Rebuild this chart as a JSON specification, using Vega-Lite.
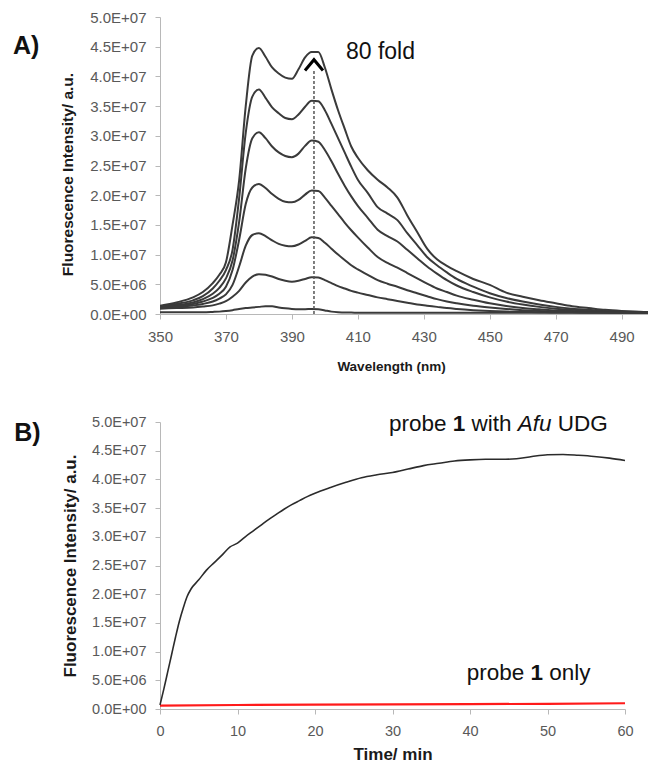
{
  "$schema": "https://vega.github.io/schema/vega-lite/v6.json",
  "padding": {"left": 12, "top": 10, "right": 0, "bottom": 0},
  "background": "white",
  "bounds": "flush",
  "spacing": 108,
  "config": {
    "font": "Liberation Sans",
    "view": {"stroke": null},
    "axis": {"grid": false, "domainColor": "#b8b8b8", "tickColor": "#b8b8b8", "tickSize": 5, "labelColor": "#595959", "labelFont": "Liberation Sans", "titleFont": "Liberation Sans", "titleFontWeight": "bold", "titleColor": "#1a1a1a", "labelFlush": false, "labelOverlap": false}
  },
  "datasets": {
    "spectra": [
      {"c":"C7","w":350,"v":1.4e6},{"c":"C7","w":355,"v":1.95e6},{"c":"C7","w":360,"v":2.8e6},{"c":"C7","w":363,"v":3.7e6},{"c":"C7","w":366,"v":5.2e6},{"c":"C7","w":368,"v":6.6e6},{"c":"C7","w":370,"v":8.7e6},{"c":"C7","w":372,"v":15e6},{"c":"C7","w":374,"v":22.5e6},{"c":"C7","w":376,"v":35e6},{"c":"C7","w":378,"v":43.5e6},{"c":"C7","w":380,"v":44.8e6},{"c":"C7","w":382,"v":43.3e6},{"c":"C7","w":384,"v":41.5e6},{"c":"C7","w":386,"v":40.5e6},{"c":"C7","w":388,"v":39.8e6},{"c":"C7","w":390,"v":39.6e6},{"c":"C7","w":392,"v":41.2e6},{"c":"C7","w":394,"v":43.2e6},{"c":"C7","w":396,"v":44.1e6},{"c":"C7","w":398,"v":44.1e6},{"c":"C7","w":400,"v":41.5e6},{"c":"C7","w":402,"v":37.8e6},{"c":"C7","w":404,"v":34.3e6},{"c":"C7","w":406,"v":31.2e6},{"c":"C7","w":408,"v":28.2e6},{"c":"C7","w":410,"v":26.3e6},{"c":"C7","w":413,"v":24.2e6},{"c":"C7","w":416,"v":22.6e6},{"c":"C7","w":419,"v":21.3e6},{"c":"C7","w":422,"v":19.6e6},{"c":"C7","w":425,"v":16.6e6},{"c":"C7","w":428,"v":13.8e6},{"c":"C7","w":431,"v":11.0e6},{"c":"C7","w":434,"v":9.2e6},{"c":"C7","w":437,"v":8.1e6},{"c":"C7","w":440,"v":7.2e6},{"c":"C7","w":445,"v":5.9e6},{"c":"C7","w":450,"v":4.9e6},{"c":"C7","w":455,"v":3.6e6},{"c":"C7","w":460,"v":2.9e6},{"c":"C7","w":465,"v":2.3e6},{"c":"C7","w":470,"v":1.8e6},{"c":"C7","w":475,"v":1.3e6},{"c":"C7","w":480,"v":1.0e6},{"c":"C7","w":485,"v":0.7e6},{"c":"C7","w":490,"v":0.5e6},{"c":"C7","w":498,"v":0.3e6},
      {"c":"C6","w":350,"v":1.3e6},{"c":"C6","w":355,"v":1.7e6},{"c":"C6","w":360,"v":2.3e6},{"c":"C6","w":363,"v":3.0e6},{"c":"C6","w":366,"v":4.3e6},{"c":"C6","w":368,"v":5.6e6},{"c":"C6","w":370,"v":7.4e6},{"c":"C6","w":372,"v":10.8e6},{"c":"C6","w":374,"v":19.5e6},{"c":"C6","w":376,"v":30.5e6},{"c":"C6","w":378,"v":36.6e6},{"c":"C6","w":380,"v":37.8e6},{"c":"C6","w":382,"v":36.4e6},{"c":"C6","w":384,"v":34.8e6},{"c":"C6","w":386,"v":33.8e6},{"c":"C6","w":388,"v":33.0e6},{"c":"C6","w":390,"v":32.8e6},{"c":"C6","w":392,"v":33.6e6},{"c":"C6","w":394,"v":34.9e6},{"c":"C6","w":396,"v":35.9e6},{"c":"C6","w":398,"v":35.8e6},{"c":"C6","w":400,"v":34.3e6},{"c":"C6","w":402,"v":32.0e6},{"c":"C6","w":404,"v":29.6e6},{"c":"C6","w":406,"v":27.2e6},{"c":"C6","w":408,"v":24.8e6},{"c":"C6","w":410,"v":22.6e6},{"c":"C6","w":413,"v":20.4e6},{"c":"C6","w":416,"v":18.0e6},{"c":"C6","w":419,"v":16.9e6},{"c":"C6","w":422,"v":15.8e6},{"c":"C6","w":425,"v":13.6e6},{"c":"C6","w":428,"v":11.6e6},{"c":"C6","w":431,"v":9.6e6},{"c":"C6","w":434,"v":8.2e6},{"c":"C6","w":437,"v":7.0e6},{"c":"C6","w":440,"v":5.9e6},{"c":"C6","w":445,"v":4.6e6},{"c":"C6","w":450,"v":3.5e6},{"c":"C6","w":455,"v":2.7e6},{"c":"C6","w":460,"v":2.1e6},{"c":"C6","w":465,"v":1.6e6},{"c":"C6","w":470,"v":1.2e6},{"c":"C6","w":475,"v":0.9e6},{"c":"C6","w":480,"v":0.7e6},{"c":"C6","w":485,"v":0.5e6},{"c":"C6","w":490,"v":0.4e6},{"c":"C6","w":498,"v":0.3e6},
      {"c":"C5","w":350,"v":1.2e6},{"c":"C5","w":355,"v":1.5e6},{"c":"C5","w":360,"v":1.95e6},{"c":"C5","w":363,"v":2.5e6},{"c":"C5","w":366,"v":3.4e6},{"c":"C5","w":368,"v":4.4e6},{"c":"C5","w":370,"v":6.0e6},{"c":"C5","w":372,"v":9.0e6},{"c":"C5","w":374,"v":15.5e6},{"c":"C5","w":376,"v":24.5e6},{"c":"C5","w":378,"v":29.6e6},{"c":"C5","w":380,"v":30.6e6},{"c":"C5","w":382,"v":29.6e6},{"c":"C5","w":384,"v":28.2e6},{"c":"C5","w":386,"v":27.2e6},{"c":"C5","w":388,"v":26.6e6},{"c":"C5","w":390,"v":26.4e6},{"c":"C5","w":392,"v":27.0e6},{"c":"C5","w":394,"v":28.3e6},{"c":"C5","w":396,"v":29.2e6},{"c":"C5","w":398,"v":29.0e6},{"c":"C5","w":400,"v":27.6e6},{"c":"C5","w":402,"v":25.7e6},{"c":"C5","w":404,"v":23.6e6},{"c":"C5","w":406,"v":21.6e6},{"c":"C5","w":408,"v":19.8e6},{"c":"C5","w":410,"v":18.2e6},{"c":"C5","w":413,"v":16.2e6},{"c":"C5","w":416,"v":14.2e6},{"c":"C5","w":419,"v":13.1e6},{"c":"C5","w":422,"v":12.2e6},{"c":"C5","w":425,"v":10.8e6},{"c":"C5","w":428,"v":9.4e6},{"c":"C5","w":431,"v":8.0e6},{"c":"C5","w":434,"v":6.8e6},{"c":"C5","w":437,"v":5.7e6},{"c":"C5","w":440,"v":4.8e6},{"c":"C5","w":445,"v":3.7e6},{"c":"C5","w":450,"v":2.8e6},{"c":"C5","w":455,"v":2.1e6},{"c":"C5","w":460,"v":1.6e6},{"c":"C5","w":465,"v":1.2e6},{"c":"C5","w":470,"v":0.9e6},{"c":"C5","w":475,"v":0.7e6},{"c":"C5","w":480,"v":0.55e6},{"c":"C5","w":485,"v":0.45e6},{"c":"C5","w":490,"v":0.35e6},{"c":"C5","w":498,"v":0.25e6},
      {"c":"C4","w":350,"v":1.1e6},{"c":"C4","w":355,"v":1.35e6},{"c":"C4","w":360,"v":1.7e6},{"c":"C4","w":363,"v":2.1e6},{"c":"C4","w":366,"v":2.7e6},{"c":"C4","w":368,"v":3.4e6},{"c":"C4","w":370,"v":4.6e6},{"c":"C4","w":372,"v":7.4e6},{"c":"C4","w":374,"v":12.5e6},{"c":"C4","w":376,"v":18.5e6},{"c":"C4","w":378,"v":21.3e6},{"c":"C4","w":380,"v":21.9e6},{"c":"C4","w":382,"v":21.2e6},{"c":"C4","w":384,"v":20.2e6},{"c":"C4","w":386,"v":19.4e6},{"c":"C4","w":388,"v":18.9e6},{"c":"C4","w":390,"v":18.8e6},{"c":"C4","w":392,"v":19.2e6},{"c":"C4","w":394,"v":20.1e6},{"c":"C4","w":396,"v":20.8e6},{"c":"C4","w":398,"v":20.7e6},{"c":"C4","w":400,"v":19.6e6},{"c":"C4","w":402,"v":18.2e6},{"c":"C4","w":404,"v":16.8e6},{"c":"C4","w":406,"v":15.4e6},{"c":"C4","w":408,"v":14.1e6},{"c":"C4","w":410,"v":12.9e6},{"c":"C4","w":413,"v":11.2e6},{"c":"C4","w":416,"v":9.6e6},{"c":"C4","w":419,"v":8.6e6},{"c":"C4","w":422,"v":7.8e6},{"c":"C4","w":425,"v":6.9e6},{"c":"C4","w":428,"v":6.0e6},{"c":"C4","w":431,"v":5.1e6},{"c":"C4","w":434,"v":4.3e6},{"c":"C4","w":437,"v":3.7e6},{"c":"C4","w":440,"v":3.1e6},{"c":"C4","w":445,"v":2.4e6},{"c":"C4","w":450,"v":1.8e6},{"c":"C4","w":455,"v":1.35e6},{"c":"C4","w":460,"v":1.0e6},{"c":"C4","w":465,"v":0.8e6},{"c":"C4","w":470,"v":0.6e6},{"c":"C4","w":475,"v":0.5e6},{"c":"C4","w":480,"v":0.4e6},{"c":"C4","w":485,"v":0.35e6},{"c":"C4","w":490,"v":0.3e6},{"c":"C4","w":498,"v":0.2e6},
      {"c":"C3","w":350,"v":1.0e6},{"c":"C3","w":355,"v":1.2e6},{"c":"C3","w":360,"v":1.45e6},{"c":"C3","w":363,"v":1.7e6},{"c":"C3","w":366,"v":2.1e6},{"c":"C3","w":368,"v":2.6e6},{"c":"C3","w":370,"v":3.3e6},{"c":"C3","w":372,"v":4.9e6},{"c":"C3","w":374,"v":8.0e6},{"c":"C3","w":376,"v":11.5e6},{"c":"C3","w":378,"v":13.3e6},{"c":"C3","w":380,"v":13.6e6},{"c":"C3","w":382,"v":13.1e6},{"c":"C3","w":384,"v":12.4e6},{"c":"C3","w":386,"v":11.8e6},{"c":"C3","w":388,"v":11.5e6},{"c":"C3","w":390,"v":11.4e6},{"c":"C3","w":392,"v":11.7e6},{"c":"C3","w":394,"v":12.3e6},{"c":"C3","w":396,"v":12.9e6},{"c":"C3","w":398,"v":12.8e6},{"c":"C3","w":400,"v":12.0e6},{"c":"C3","w":402,"v":11.0e6},{"c":"C3","w":404,"v":10.0e6},{"c":"C3","w":406,"v":9.1e6},{"c":"C3","w":408,"v":8.2e6},{"c":"C3","w":410,"v":7.5e6},{"c":"C3","w":413,"v":6.6e6},{"c":"C3","w":416,"v":5.7e6},{"c":"C3","w":419,"v":5.1e6},{"c":"C3","w":422,"v":4.6e6},{"c":"C3","w":425,"v":4.0e6},{"c":"C3","w":428,"v":3.5e6},{"c":"C3","w":431,"v":3.0e6},{"c":"C3","w":434,"v":2.5e6},{"c":"C3","w":437,"v":2.1e6},{"c":"C3","w":440,"v":1.8e6},{"c":"C3","w":445,"v":1.4e6},{"c":"C3","w":450,"v":1.1e6},{"c":"C3","w":455,"v":0.85e6},{"c":"C3","w":460,"v":0.65e6},{"c":"C3","w":465,"v":0.5e6},{"c":"C3","w":470,"v":0.4e6},{"c":"C3","w":475,"v":0.35e6},{"c":"C3","w":480,"v":0.3e6},{"c":"C3","w":485,"v":0.25e6},{"c":"C3","w":490,"v":0.2e6},{"c":"C3","w":498,"v":0.2e6},
      {"c":"C2","w":350,"v":0.9e6},{"c":"C2","w":355,"v":1.0e6},{"c":"C2","w":360,"v":1.1e6},{"c":"C2","w":363,"v":1.25e6},{"c":"C2","w":366,"v":1.45e6},{"c":"C2","w":368,"v":1.75e6},{"c":"C2","w":370,"v":2.15e6},{"c":"C2","w":372,"v":2.9e6},{"c":"C2","w":374,"v":3.9e6},{"c":"C2","w":376,"v":5.3e6},{"c":"C2","w":378,"v":6.3e6},{"c":"C2","w":380,"v":6.7e6},{"c":"C2","w":382,"v":6.6e6},{"c":"C2","w":384,"v":6.3e6},{"c":"C2","w":386,"v":5.9e6},{"c":"C2","w":388,"v":5.6e6},{"c":"C2","w":390,"v":5.45e6},{"c":"C2","w":392,"v":5.6e6},{"c":"C2","w":394,"v":5.9e6},{"c":"C2","w":396,"v":6.2e6},{"c":"C2","w":398,"v":6.15e6},{"c":"C2","w":400,"v":5.7e6},{"c":"C2","w":402,"v":5.2e6},{"c":"C2","w":404,"v":4.7e6},{"c":"C2","w":406,"v":4.3e6},{"c":"C2","w":408,"v":3.9e6},{"c":"C2","w":410,"v":3.6e6},{"c":"C2","w":413,"v":3.2e6},{"c":"C2","w":416,"v":2.8e6},{"c":"C2","w":419,"v":2.5e6},{"c":"C2","w":422,"v":2.2e6},{"c":"C2","w":425,"v":1.9e6},{"c":"C2","w":428,"v":1.6e6},{"c":"C2","w":431,"v":1.4e6},{"c":"C2","w":434,"v":1.2e6},{"c":"C2","w":437,"v":1.0e6},{"c":"C2","w":440,"v":0.85e6},{"c":"C2","w":445,"v":0.65e6},{"c":"C2","w":450,"v":0.5e6},{"c":"C2","w":455,"v":0.4e6},{"c":"C2","w":460,"v":0.35e6},{"c":"C2","w":465,"v":0.3e6},{"c":"C2","w":470,"v":0.25e6},{"c":"C2","w":475,"v":0.25e6},{"c":"C2","w":480,"v":0.2e6},{"c":"C2","w":485,"v":0.2e6},{"c":"C2","w":490,"v":0.2e6},{"c":"C2","w":498,"v":0.2e6},
      {"c":"C1","w":350,"v":0.3e6},{"c":"C1","w":355,"v":0.3e6},{"c":"C1","w":360,"v":0.3e6},{"c":"C1","w":363,"v":0.3e6},{"c":"C1","w":366,"v":0.35e6},{"c":"C1","w":368,"v":0.4e6},{"c":"C1","w":370,"v":0.5e6},{"c":"C1","w":372,"v":0.65e6},{"c":"C1","w":374,"v":0.85e6},{"c":"C1","w":376,"v":1.0e6},{"c":"C1","w":378,"v":1.1e6},{"c":"C1","w":380,"v":1.2e6},{"c":"C1","w":382,"v":1.3e6},{"c":"C1","w":384,"v":1.3e6},{"c":"C1","w":386,"v":1.1e6},{"c":"C1","w":388,"v":0.95e6},{"c":"C1","w":390,"v":0.85e6},{"c":"C1","w":392,"v":0.8e6},{"c":"C1","w":394,"v":0.8e6},{"c":"C1","w":396,"v":0.85e6},{"c":"C1","w":398,"v":0.8e6},{"c":"C1","w":400,"v":0.6e6},{"c":"C1","w":402,"v":0.4e6},{"c":"C1","w":404,"v":0.3e6},{"c":"C1","w":406,"v":0.25e6},{"c":"C1","w":408,"v":0.25e6},{"c":"C1","w":410,"v":0.2e6},{"c":"C1","w":413,"v":0.2e6},{"c":"C1","w":416,"v":0.2e6},{"c":"C1","w":419,"v":0.2e6},{"c":"C1","w":422,"v":0.2e6},{"c":"C1","w":425,"v":0.2e6},{"c":"C1","w":428,"v":0.2e6},{"c":"C1","w":431,"v":0.2e6},{"c":"C1","w":434,"v":0.2e6},{"c":"C1","w":437,"v":0.2e6},{"c":"C1","w":440,"v":0.2e6},{"c":"C1","w":445,"v":0.2e6},{"c":"C1","w":450,"v":0.2e6},{"c":"C1","w":455,"v":0.2e6},{"c":"C1","w":460,"v":0.2e6},{"c":"C1","w":465,"v":0.2e6},{"c":"C1","w":470,"v":0.2e6},{"c":"C1","w":475,"v":0.2e6},{"c":"C1","w":480,"v":0.2e6},{"c":"C1","w":485,"v":0.2e6},{"c":"C1","w":490,"v":0.2e6},{"c":"C1","w":498,"v":0.2e6}
    ],
    "udg": [
      {"t":0,"v":0.7e6},{"t":0.5,"v":3.5e6},{"t":1,"v":6.5e6},{"t":1.5,"v":9.5e6},{"t":2,"v":12.5e6},{"t":2.5,"v":15.3e6},{"t":3,"v":17.6e6},{"t":3.5,"v":19.6e6},{"t":4,"v":20.9e6},{"t":5,"v":22.5e6},{"t":6,"v":24.2e6},{"t":7,"v":25.5e6},{"t":8,"v":26.8e6},{"t":9,"v":28.2e6},{"t":10,"v":28.9e6},{"t":11,"v":30.0e6},{"t":12,"v":31.0e6},{"t":13,"v":32.0e6},{"t":14,"v":33.0e6},{"t":15,"v":33.9e6},{"t":16,"v":34.8e6},{"t":17,"v":35.6e6},{"t":18,"v":36.3e6},{"t":19,"v":37.0e6},{"t":20,"v":37.6e6},{"t":22,"v":38.6e6},{"t":24,"v":39.5e6},{"t":26,"v":40.3e6},{"t":28,"v":40.8e6},{"t":30,"v":41.2e6},{"t":32,"v":41.8e6},{"t":34,"v":42.4e6},{"t":36,"v":42.8e6},{"t":38,"v":43.2e6},{"t":40,"v":43.4e6},{"t":42,"v":43.5e6},{"t":44,"v":43.5e6},{"t":46,"v":43.6e6},{"t":48,"v":44.0e6},{"t":50,"v":44.3e6},{"t":52,"v":44.35e6},{"t":54,"v":44.2e6},{"t":56,"v":44.0e6},{"t":58,"v":43.7e6},{"t":60,"v":43.3e6}
    ],
    "ctrl": [
      {"t":0,"v":0.6e6},{"t":10,"v":0.7e6},{"t":20,"v":0.75e6},{"t":30,"v":0.8e6},{"t":40,"v":0.85e6},{"t":50,"v":0.9e6},{"t":60,"v":1.0e6}
    ]
  },
  "vconcat": [
    {
      "width": 488,
      "height": 297,
      "encoding": {
        "x": {"field": "w", "type": "quantitative", "scale": {"domain": [350, 498], "nice": false, "zero": false},
              "axis": {"values": [350, 370, 390, 410, 430, 450, 470, 490], "title": "Wavelength (nm)", "labelFontSize": 15, "labelPadding": 10, "titleFontSize": 13.5, "titlePadding": 15, "titleX": 231}},
        "y": {"field": "v", "type": "quantitative", "scale": {"domain": [0, 50000000], "nice": false},
              "axis": {"values": [0, 5000000, 10000000, 15000000, 20000000, 25000000, 30000000, 35000000, 40000000, 45000000, 50000000], "labelExpr": "replace(format(datum.value, '.1e'), 'e+', 'E+0')", "title": "Fluorescence Intensity/ a.u.", "labelFontSize": 15, "labelPadding": 9, "titleFontSize": 15.5, "titlePadding": 14, "titleY": 157}}
      },
      "layer": [
        {"data": {"name": "spectra"}, "mark": {"type": "line", "color": "#3a3a3a", "strokeWidth": 2, "clip": true, "interpolate": "monotone"},
         "encoding": {"detail": {"field": "c"}}},
        {"data": {"values": [{"w": 396.7, "v": 0, "v2": 40.9e6}]},
         "mark": {"type": "rule", "strokeDash": [3, 2], "color": "#555555", "strokeWidth": 1.5},
         "encoding": {"y2": {"field": "v2"}}},
        {"data": {"values": [{"w": 396.7, "v": 41.9e6}]},
         "mark": {"type": "point", "shape": "M-1,0.6L0,-0.6L1,0.6", "filled": false, "size": 324, "color": "#000000", "strokeWidth": 3, "opacity": 1}},
        {"data": {"values": [{"w": 406.4, "v": 42.9e6, "txt": "80 fold"}]},
         "mark": {"type": "text", "align": "left", "baseline": "alphabetic", "fontSize": 23, "color": "#111111"},
         "encoding": {"text": {"field": "txt"}}},
        {"data": {"values": [{"w": 305.4, "v": 43.8e6, "txt": "A)"}]},
         "mark": {"type": "text", "align": "left", "baseline": "alphabetic", "fontSize": 25, "fontWeight": "bold", "color": "#111111"},
         "encoding": {"text": {"field": "txt"}}}
      ]
    },
    {
      "width": 465,
      "height": 287,
      "encoding": {
        "x": {"field": "t", "type": "quantitative", "scale": {"domain": [0, 60], "nice": false},
              "axis": {"values": [0, 10, 20, 30, 40, 50, 60], "title": "Time/ min", "labelFontSize": 14.5, "labelPadding": 10, "titleFontSize": 17, "titlePadding": 9}},
        "y": {"field": "v", "type": "quantitative", "scale": {"domain": [0, 50000000], "nice": false},
              "axis": {"values": [0, 5000000, 10000000, 15000000, 20000000, 25000000, 30000000, 35000000, 40000000, 45000000, 50000000], "labelExpr": "replace(format(datum.value, '.1e'), 'e+', 'E+0')", "title": "Fluorescence Intensity/ a.u.", "labelFontSize": 14.5, "labelPadding": 9, "titleFontSize": 17, "titlePadding": 12}}
      },
      "layer": [
        {"data": {"name": "ctrl"}, "mark": {"type": "line", "color": "#ff1a1a", "strokeWidth": 2.2}},
        {"data": {"name": "udg"}, "mark": {"type": "line", "color": "#2b2b2b", "strokeWidth": 1.6, "interpolate": "monotone"}},
        {"data": {"values": [{"t": 29.55, "v": 48.4e6, "txt": "probe"}, {"t": 40.19, "v": 48.4e6, "txt": "with"}, {"t": 51.33, "v": 48.4e6, "txt": "UDG"}, {"t": 39.57, "v": 5.1e6, "txt": "probe"}, {"t": 50.22, "v": 5.1e6, "txt": "only"}]},
         "mark": {"type": "text", "align": "left", "baseline": "alphabetic", "fontSize": 22.5, "color": "#111111"},
         "encoding": {"text": {"field": "txt"}}},
        {"data": {"values": [{"t": 37.78, "v": 48.4e6, "txt": "1"}, {"t": 47.81, "v": 5.1e6, "txt": "1"}]},
         "mark": {"type": "text", "align": "left", "baseline": "alphabetic", "fontSize": 22.5, "fontWeight": "bold", "color": "#111111"},
         "encoding": {"text": {"field": "txt"}}},
        {"data": {"values": [{"t": 46.17, "v": 48.4e6, "txt": "Afu"}]},
         "mark": {"type": "text", "align": "left", "baseline": "alphabetic", "fontSize": 22.5, "fontStyle": "italic", "color": "#111111"},
         "encoding": {"text": {"field": "txt"}}},
        {"data": {"values": [{"t": -18.8, "v": 46.7e6, "txt": "B)"}]},
         "mark": {"type": "text", "align": "left", "baseline": "alphabetic", "fontSize": 25, "fontWeight": "bold", "color": "#111111"},
         "encoding": {"text": {"field": "txt"}}}
      ]
    }
  ]
}
